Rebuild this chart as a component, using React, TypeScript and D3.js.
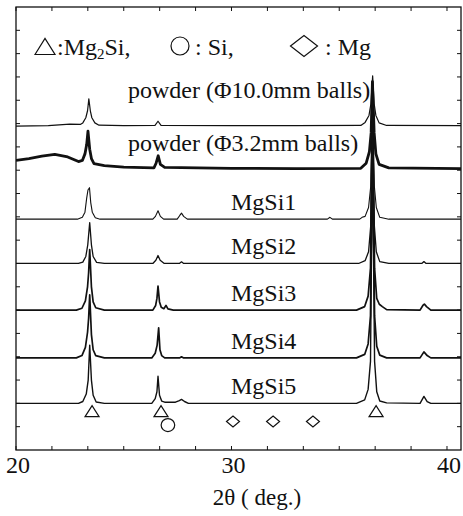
import React from 'react';
import * as d3 from 'd3';

// 2θ (deg) vs intensity above each trace's own baseline (a.u., 1 = one y tick)
const powder10 = [[20,-0.06],[21.5,-0.04],[22.5,0.03],[23.0,0.02],[23.1,0.08],[23.24,0.3],[23.32,0.6],[23.38,1.11],[23.45,0.6],[23.52,0.3],[23.66,0.08],[23.85,-0.02],[25,-0.04],[26.45,-0.03],[26.59,0.15],[26.73,-0.03],[30,-0.04],[33,-0.04],[36.0,-0.03],[36.2,0.1],[36.38,0.4],[36.47,0.9],[36.55,2.1],[36.62,0.9],[36.7,0.4],[36.85,0.08],[37.2,-0.03],[40.65,-0.04]];
const powder32 = [[20,0.32],[20.6,0.4],[21.2,0.5],[21.8,0.58],[22.4,0.47],[22.9,0.27],[23.08,0.32],[23.2,0.6],[23.28,1.0],[23.34,1.58],[23.42,0.8],[23.5,0.4],[23.62,0.18],[24.1,0.1],[25,0.03],[26.4,0],[26.5,0.2],[26.6,0.52],[26.7,0.15],[26.9,0.02],[30,-0.02],[33,-0.03],[36.0,-0.02],[36.25,0.2],[36.4,0.7],[36.48,1.5],[36.54,3.7],[36.62,1.5],[36.7,0.6],[36.85,0.15],[37.3,0],[40.65,-0.03]];
const mgsi1 = [[20,0],[22.85,0],[23.08,0.08],[23.2,0.3],[23.28,0.9],[23.34,1.25],[23.41,1.35],[23.47,0.7],[23.54,0.3],[23.68,0.06],[23.9,0],[26.35,0],[26.47,0.12],[26.59,0.36],[26.7,0.12],[26.85,0],[27.48,0],[27.6,0.16],[27.68,0.26],[27.78,0.12],[27.95,0],[34.45,0],[34.57,0.08],[34.68,0],[35.95,0],[36.06,0.08],[36.2,0.12],[36.36,0.5],[36.46,1.4],[36.54,5.5],[36.63,1.4],[36.72,0.5],[36.88,0.08],[37.3,0],[40.65,0]];
const mgsi2 = [[20,0],[22.9,0],[23.1,0.06],[23.24,0.3],[23.33,0.8],[23.42,1.75],[23.5,0.8],[23.58,0.3],[23.74,0.05],[24.1,0],[26.35,0],[26.49,0.14],[26.59,0.34],[26.69,0.14],[26.88,0],[27.58,0],[27.68,0.07],[27.78,0],[35.9,0],[36.2,0.12],[36.36,0.5],[36.46,1.6],[36.54,7.0],[36.63,1.6],[36.72,0.5],[36.88,0.08],[37.3,0],[38.83,0],[38.93,0.08],[39.03,0],[40.65,0]];
const mgsi3 = [[20,0],[22.8,0],[23.06,0.08],[23.22,0.4],[23.32,1.0],[23.37,1.6],[23.42,2.6],[23.5,1.0],[23.58,0.35],[23.7,0.1],[24.1,0],[26.35,0],[26.48,0.2],[26.54,0.5],[26.59,1.03],[26.66,0.35],[26.74,0.12],[26.86,0.06],[26.96,0.2],[27.05,0.05],[27.3,0],[35.8,0],[36.18,0.15],[36.34,0.6],[36.45,1.8],[36.54,8.6],[36.64,1.8],[36.74,0.5],[36.86,0.25],[37.0,0.15],[37.2,0.02],[38.75,0],[38.88,0.2],[38.95,0.26],[39.05,0.15],[39.25,0],[40.65,0]];
const mgsi4 = [[20,0],[22.8,0],[23.06,0.1],[23.22,0.45],[23.32,1.1],[23.37,1.7],[23.42,2.7],[23.5,1.0],[23.58,0.35],[23.7,0.1],[24.1,0],[26.3,0],[26.46,0.2],[26.55,0.55],[26.62,1.29],[26.68,0.35],[26.76,0.1],[26.9,0],[27.6,0],[27.68,0.05],[27.78,0],[35.8,0],[36.18,0.15],[36.34,0.6],[36.45,1.8],[36.54,9.6],[36.64,1.8],[36.74,0.5],[36.88,0.12],[37.2,0],[38.75,0],[38.93,0.26],[39.08,0.1],[39.25,0],[40.65,0]];
const mgsi5 = [[20,0],[22.9,0],[23.1,0.08],[23.26,0.4],[23.35,1.0],[23.42,2.5],[23.5,1.0],[23.58,0.35],[23.72,0.06],[24.1,0],[26.3,0],[26.46,0.2],[26.54,0.5],[26.59,1.16],[26.66,0.35],[26.76,0.1],[26.9,0.05],[27.4,0.05],[27.58,0.12],[27.68,0.17],[27.82,0.08],[28.0,0],[35.8,0],[36.18,0.15],[36.34,0.6],[36.45,1.8],[36.54,10.9],[36.64,1.8],[36.74,0.5],[36.88,0.1],[37.2,0.02],[38.75,0],[38.93,0.3],[39.08,0.08],[39.25,0],[40.65,0]];

const seriesNames = ['powder (\u03A610.0mm balls)', 'powder (\u03A63.2mm balls)', 'MgSi1', 'MgSi2', 'MgSi3', 'MgSi4', 'MgSi5'];
const seriesData = [powder10, powder32, mgsi1, mgsi2, mgsi3, mgsi4, mgsi5];
const offsets = [13.95, 12.1, 9.9, 8.0, 6.0, 3.95, 2.0];
const widths = [1.2, 2.8, 1.1, 1.3, 1.7, 1.7, 1.4];

// phase markers under the bottom trace
const mg2siPeaks = [23.53, 26.73, 36.71];
const siPeaks = [27.05];
const mgPeaks = [30.07, 31.93, 33.78];

const xTicks = [20, 21.667, 23.333, 25, 26.667, 28.333, 30, 31.667, 33.333, 35, 36.667, 38.333, 40];
const xLabels = [20, 30, 40];
const yTicks = [1, 2, 3, 4, 5, 6, 7, 8, 9, 10, 11, 12, 13, 14, 15, 16, 17, 18];

const W = 463, H = 516;
const m = {left: 16, right: 461, top: 7, bottom: 450};
const font = 'Liberation Serif, Times New Roman, Times, DejaVu Serif, serif';

export default function App() {
  const x = d3.scaleLinear().domain([20, 40.65]).range([m.left, m.right]);
  const y = d3.scaleLinear().domain([0, 19]).range([m.bottom, m.top]);

  const tri = (cx, cy, w, h) => `M${cx - w / 2},${cy + h / 2}L${cx},${cy - h / 2}L${cx + w / 2},${cy + h / 2}Z`;
  const dia = (cx, cy, w, h) => `M${cx - w / 2},${cy}L${cx},${cy - h / 2}L${cx + w / 2},${cy}L${cx},${cy + h / 2}Z`;
  const txt = {fontFamily: font, fill: '#111'};

  return (
    <div style={{position: 'absolute', left: 0, top: 0}}>
      <svg width={W} height={H} style={{display: 'block', background: '#fff', fontFamily: font}}>
        <defs>
          <clipPath id="plot"><rect x={m.left} y={m.top} width={m.right - m.left} height={m.bottom - m.top} /></clipPath>
        </defs>
        <g clipPath="url(#plot)">
          {seriesData.map((d, i) => {
            const line = d3.line().x(p => x(p[0])).y(p => y(p[1] + offsets[i])).curve(d3.curveLinear);
            return <path key={i} d={line(d)} fill="none" stroke="#111" strokeWidth={widths[i]} strokeLinejoin="round" />;
          })}
        </g>

        {/* frame and inward ticks */}
        <rect x={m.left} y={m.top} width={m.right - m.left} height={m.bottom - m.top} fill="none" stroke="#111" strokeWidth={1.3} />
        {xTicks.map((t, i) => (
          <g key={'xt' + i}>
            <line x1={x(t)} x2={x(t)} y1={m.bottom} y2={m.bottom - 4} stroke="#111" strokeWidth={1} />
            <line x1={x(t)} x2={x(t)} y1={m.top} y2={m.top + 4} stroke="#111" strokeWidth={1} />
          </g>
        ))}
        {yTicks.map((t, i) => (
          <g key={'yt' + i}>
            <line x1={m.left} x2={m.left + 4} y1={y(t)} y2={y(t)} stroke="#111" strokeWidth={1} />
            <line x1={m.right} x2={m.right - 4} y1={y(t)} y2={y(t)} stroke="#111" strokeWidth={1} />
          </g>
        ))}
        {xLabels.map(t => (
          <text key={'xl' + t} x={x(t) + 2} y={473} textAnchor="middle" style={{...txt, fontSize: 24}}>{t}</text>
        ))}
        <text x={257} y={505} textAnchor="middle" style={{...txt, fontSize: 23}}>2θ ( deg.)</text>

        {/* series labels */}
        <text x={128} y={98} style={{...txt, fontSize: 24}}>{seriesNames[0]}</text>
        <text x={128} y={151} style={{...txt, fontSize: 24}}>{seriesNames[1]}</text>
        {seriesNames.slice(2).map((s, i) => (
          <text key={s} x={231} y={y(offsets[i + 2]) - 9} style={{...txt, fontSize: 24}}>{s}</text>
        ))}

        {/* phase markers */}
        {mg2siPeaks.map((p, i) => (
          <path key={'t' + i} d={tri(x(p), y(1.67), 14, 11)} fill="none" stroke="#111" strokeWidth={1.2} />
        ))}
        {siPeaks.map((p, i) => (
          <ellipse key={'c' + i} cx={x(p)} cy={y(1.07)} rx={6.8} ry={6.5} fill="none" stroke="#111" strokeWidth={1.2} />
        ))}
        {mgPeaks.map((p, i) => (
          <path key={'d' + i} d={dia(x(p), y(1.22), 13, 11)} fill="none" stroke="#111" strokeWidth={1.2} />
        ))}

        {/* legend */}
        <path d={tri(45, 46.5, 20, 16)} fill="none" stroke="#111" strokeWidth={1.2} />
        <text x={57} y={55} style={{...txt, fontSize: 24}}>:Mg<tspan style={{fontSize: 15}} dy={4}>2</tspan><tspan dy={-4}>Si,</tspan></text>
        <circle cx={180} cy={46} r={9} fill="none" stroke="#111" strokeWidth={1.2} />
        <text x={195} y={55} style={{...txt, fontSize: 24}}>: Si,</text>
        <path d={dia(304, 46, 27, 21)} fill="none" stroke="#111" strokeWidth={1.2} />
        <text x={325} y={55} style={{...txt, fontSize: 24}}>: Mg</text>
      </svg>
    </div>
  );
}
